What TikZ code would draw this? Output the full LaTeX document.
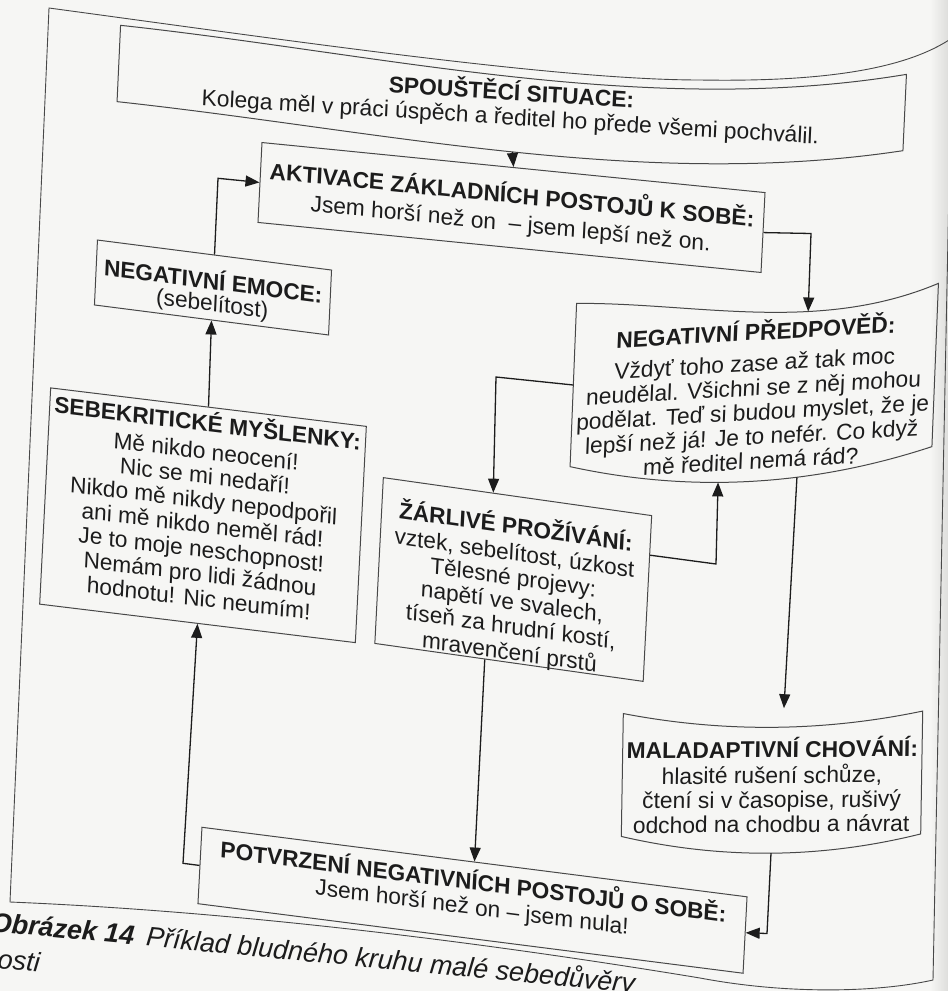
\documentclass[tikz,border=0pt]{standalone}
\usepackage{fontspec}
\setmainfont{Liberation Sans}
\usetikzlibrary{arrows.meta,calc}

\definecolor{paper}{RGB}{246,246,244}
\definecolor{curl}{RGB}{222,222,220}
\definecolor{ink}{RGB}{28,28,28}
\definecolor{rule}{RGB}{72,72,72}

% bold heading over centred body lines
% #1 = vertical offset of the block, #2 = extra gap under the heading
\newcommand{\boxtext}[4]{%
  \raisebox{#1}[0pt][0pt]{%
    \begin{tabular}{@{}c@{}}\textbf{#3}\\[#2]#4\end{tabular}}}

\tikzset{
  stage/.style={inner sep=0pt, text=ink,
    font=\fontsize{22.8}{24.5}\selectfont},
  framed/.style={stage, draw=rule, line width=1pt},
  outline/.style={draw=rule, line width=1pt},
  flow/.style={draw=ink, line width=1.3pt,
    -{Triangle[length=14pt,width=11pt]}},
  caption/.style={anchor=base west, rotate=-5.5, inner sep=0pt, text=ink,
    font=\fontsize{27}{31}\selectfont\itshape},
}

\begin{document}
\begin{tikzpicture}[x=1pt,y=1pt]
\useasboundingbox (0,0) rectangle (948,-991);
\fill[paper] (0,0) rectangle (948,-991);
\clip (0,0) rectangle (948,-991);
% shadow where the page bends away at the right
\shade[left color=paper, right color=curl] (930,0) rectangle (948,-991);

% frame round the whole figure
\draw[outline, line width=0.9pt] (49,-8)
  .. controls (300,-42) and (560,-80) .. (700,-80)
  .. controls (820,-82) and (905,-70) .. (952,-38)
  -- (933,-980)
  .. controls (880,-992) and (790,-995) .. (700,-978)
  .. controls (500,-945) and (250,-912) .. (10,-902) -- cycle;

% stages of the cycle
\node[stage, minimum width=787pt, minimum height=76pt,
  cm={0.99806,-0.06227,0.04606,0.99894,(0,0)}] (trig) at (511.75,-88)
  {\boxtext{-23.25pt}{0pt}{SPOUŠTĚCÍ SITUACE:}{Kolega měl v práci úspěch a ředitel ho přede všemi pochválil.}};

\node[framed, minimum width=505.5pt, minimum height=80pt,
  cm={0.99509,-0.09898,0.04994,0.99875,(0,0)}] (akt) at (511.5,-207.5)
  {\boxtext{-7.5pt}{3.5pt}{AKTIVACE ZÁKLADNÍCH POSTOJŮ K SOBĚ:}{Jsem horší než on~ – jsem lepší než on.}};

\node[framed, minimum width=236pt, minimum height=65pt,
  cm={0.99187,-0.12718,0.04612,0.99894,(0,0)}] (emo) at (213,-287.5)
  {\boxtext{-11.7pt}{-2.5pt}{NEGATIVNÍ EMOCE:}{(sebelítost)}};

\node[framed, minimum width=318pt, minimum height=216.5pt,
  cm={0.99265,-0.12099,0.05075,0.99871,(0,0)}] (sebe) at (203,-515.25)
  {\boxtext{-2.25pt}{3.5pt}{SEBEKRITICKÉ MYŠLENKY:}{Mě nikdo neocení!\\Nic se mi nedaří!\\Nikdo mě nikdy nepodpořil\\ani mě nikdo neměl rád!\\Je to moje neschopnost!\\Nemám pro lidi žádnou\\hodnotu! Nic neumím!}};

\node[stage, minimum width=362pt, minimum height=163pt,
  cm={0.99847,0.05525,0.03985,0.99921,(0,0)}] (pred) at (754.25,-375)
  {\boxtext{-28.5pt}{6.5pt}{NEGATIVNÍ PŘEDPOVĚĎ:}{Vždyť toho zase až tak moc\\neudělal. Všichni se z něj mohou\\podělat. Teď si budou myslet, že je\\lepší než já! Je to nefér. Co když\\mě ředitel nemá rád?}};

\node[framed, minimum width=271pt, minimum height=166pt,
  cm={0.99014,-0.14007,0.05113,0.99869,(0,0)}] (zarl) at (513.25,-579.5)
  {\boxtext{-16.5pt}{1.5pt}{ŽÁRLIVÉ PROŽÍVÁNÍ:}{vztek, sebelítost, úzkost\\Tělesné projevy:\\napětí ve svalech,\\tíseň za hrudní kostí,\\mravenčení prstů}};

\node[stage, minimum width=299pt, minimum height=122.5pt,
  cm={0.99996,0.00836,0.01633,0.99987,(0,0)}] (mal) at (772,-773.75)
  {\boxtext{-20pt}{0pt}{MALADAPTIVNÍ CHOVÁNÍ:}{hlasité rušení schůze,\\čtení si v časopise, rušivý\\odchod na chodbu a návrat}};

\node[framed, minimum width=549.5pt, minimum height=76.5pt,
  cm={0.99196,-0.12654,0.05222,0.99864,(0,0)}] (potv) at (472.5,-900.25)
  {\boxtext{0pt}{0pt}{POTVRZENÍ NEGATIVNÍCH POSTOJŮ O SOBĚ:}{Jsem horší než on – jsem nula!}};

% bowed outlines of the three boxes on the curling part of the page
\draw[outline] (trig.north west)
  .. controls ($(trig.north west)!0.3333!(trig.north east)+(0,-12)$)
          and ($(trig.north west)!0.6667!(trig.north east)+(0,-60)$) .. (trig.north east)
  -- (trig.south east)
  .. controls ($(trig.south west)!0.6667!(trig.south east)+(0,-56)$)
          and ($(trig.south west)!0.3333!(trig.south east)+(0,-12)$) .. (trig.south west)
  coordinate[pos=0.497] (trig-out)
  -- cycle;

\draw[outline] (pred.north west)
  .. controls ($(pred.north west)!0.3333!(pred.north east)+(0,-6)$)
          and ($(pred.north west)!0.6667!(pred.north east)+(0,-44)$) .. (pred.north east)
  coordinate[pos=0.64] (pred-in)
  -- (pred.south east)
  .. controls ($(pred.south west)!0.6667!(pred.south east)+(0,-33)$)
          and ($(pred.south west)!0.3333!(pred.south east)+(0,-33)$) .. (pred.south west)
  coordinate[pos=0.591] (pred-back) coordinate[pos=0.373] (pred-out)
  -- cycle;

\draw[outline] (mal.north west)
  .. controls ($(mal.north west)!0.3333!(mal.north east)+(0,-20)$)
          and ($(mal.north west)!0.6667!(mal.north east)+(0,-20)$) .. (mal.north east)
  coordinate[pos=0.533] (mal-in)
  -- (mal.south east)
  .. controls ($(mal.south west)!0.6667!(mal.south east)+(0,-24)$)
          and ($(mal.south west)!0.3333!(mal.south east)+(0,-24)$) .. (mal.south west)
  coordinate[pos=0.5] (mal-out)
  -- cycle;

% bends of the connectors
\coordinate (c1) at (218,-178.3);
\coordinate (c2) at (811,-233.5);
\coordinate (c3) at (496,-377);
\coordinate (c4) at (716,-564);
\coordinate (c5) at (767,-933.5);
\coordinate (c6) at (183,-863.3);

\draw[flow] (trig-out) -- (akt.north);
\draw[flow] (emo.north) -- (c1) -- (akt.west);
\draw[flow] (akt.east) -- (c2) -- (pred-in);
\draw[flow] (pred.west) -- (c3) -- ($(zarl.north west)!0.41!(zarl.north east)$);
\draw[flow] ($(zarl.north east)!0.24!(zarl.south east)$) -- (c4) -- (pred-back);
\draw[flow, shorten >=19pt] (pred-out) -- (mal-in);
\draw[flow] (mal-out) -- (c5) -- ($(potv.north east)!0.47!(potv.south east)$);
\draw[flow] ($(zarl.south west)!0.41!(zarl.south east)$) -- (potv.north);
\draw[flow] (potv.west) -- (c6) -- (sebe.south);
\draw[flow] (sebe.north) -- (emo.south);

% caption below the frame
\node[caption] (cap1) at (-10,-931)
  {\textbf{Obrázek 14}\hspace{12pt}Příklad bludného kruhu malé sebedůvěry};
\node[caption] (cap2) at (-3,-968) {osti};
\end{tikzpicture}
\end{document}
